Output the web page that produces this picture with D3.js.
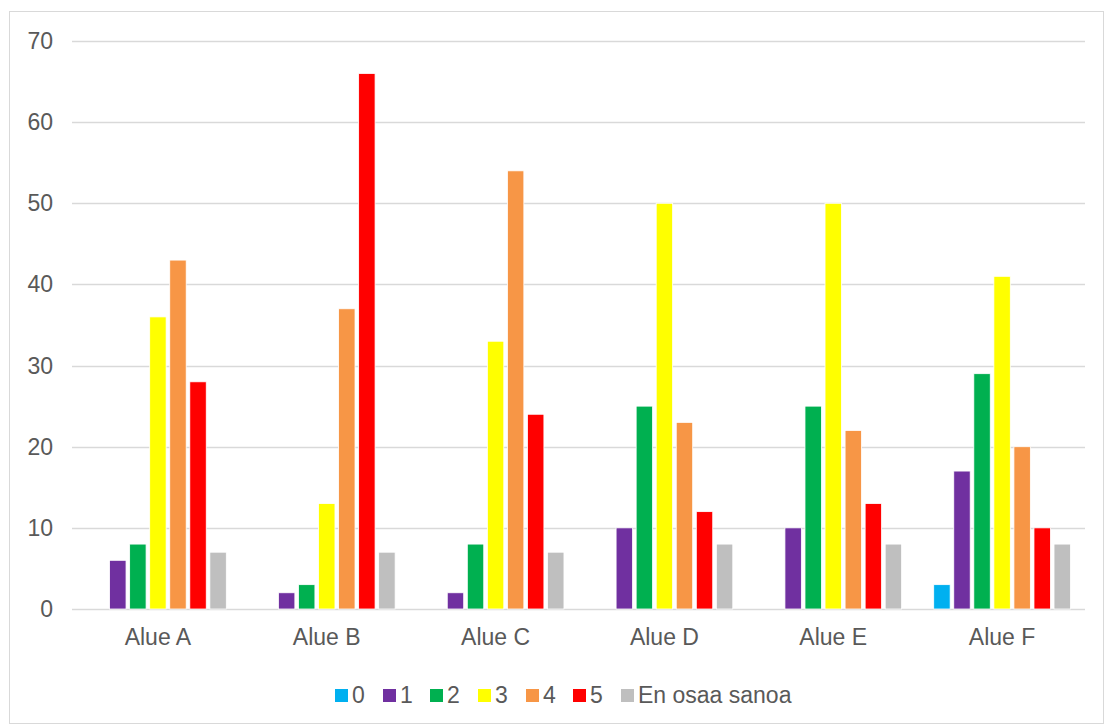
<!DOCTYPE html>
<html>
<head>
<meta charset="utf-8">
<script src="https://cdn.jsdelivr.net/npm/d3@7"></script>
<style>
  body { margin: 0; background: #fff; }
  svg text { font-family: "Liberation Sans", Arial, sans-serif; fill: #595959; }
</style>
</head>
<body>
<div id="chart"></div>
<script>
// chart data
var categories = ["Alue A", "Alue B", "Alue C", "Alue D", "Alue E", "Alue F"];
var seriesNames = ["0", "1", "2", "3", "4", "5", "En osaa sanoa"];
var seriesColors = ["#00b0f0", "#7030a0", "#00b050", "#ffff00", "#f79646", "#ff0000", "#bfbfbf"];
var values0 = [0, 0, 0, 0, 0, 3];
var values1 = [6, 2, 2, 10, 10, 17];
var values2 = [8, 3, 8, 25, 25, 29];
var values3 = [36, 13, 33, 50, 50, 41];
var values4 = [43, 37, 54, 23, 22, 20];
var values5 = [28, 66, 24, 12, 13, 10];
var valuesEos = [7, 7, 7, 8, 8, 8];
var yTicks = [0, 10, 20, 30, 40, 50, 60, 70];

var allValues = [values0, values1, values2, values3, values4, values5, valuesEos];

var W = 1104, H = 724;
var margin = {top: 41, right: 19, bottom: 115, left: 72};
var width = W - margin.left - margin.right,
    height = H - margin.top - margin.bottom;

var svg = d3.select("#chart")
    .append("svg")
    .attr("width", W)
    .attr("height", H);

// outer frame
svg.append("rect")
    .attr("x", 9.5).attr("y", 11.5)
    .attr("width", W - 10).attr("height", H - 12)
    .attr("fill", "none")
    .attr("stroke", "#d9d9d9");

var g = svg.append("g")
    .attr("transform", "translate(" + margin.left + "," + margin.top + ")");

// groups sit a touch right of centre in the original
var x0 = d3.scaleBand().domain(categories).range([1.5, width + 1.5]).paddingInner(0.19).paddingOuter(0.095);
var x1 = d3.scaleBand().domain(seriesNames).range([0, x0.bandwidth()]).paddingInner(0.18);
var y = d3.scaleLinear().domain([0, 70]).range([height, 0]);

// gridlines
g.selectAll(".grid")
    .data(yTicks)
    .enter()
    .append("line")
    .attr("x1", 0).attr("x2", width)
    .attr("y1", function(d){ return Math.round(y(d)) + 0.5; })
    .attr("y2", function(d){ return Math.round(y(d)) + 0.5; })
    .attr("stroke", "#d9d9d9")
    .attr("stroke-width", 1.3);

// y labels
g.selectAll(".ylab")
    .data(yTicks)
    .enter()
    .append("text")
    .attr("x", -19)
    .attr("y", function(d){ return y(d); })
    .attr("dy", "0.35em")
    .attr("text-anchor", "end")
    .style("font-size", "23px")
    .text(function(d){ return d; });

// bars
var rows = [];
categories.forEach(function(c, ci) {
    seriesNames.forEach(function(s, si) {
        rows.push({cat: c, series: s, value: allValues[si][ci], color: seriesColors[si]});
    });
});

g.selectAll(".bar")
    .data(rows.filter(function(d){ return d.value > 0; }))
    .enter()
    .append("rect")
    .attr("x", function(d){ return x0(d.cat) + x1(d.series); })
    .attr("y", function(d){ return y(d.value); })
    .attr("width", x1.bandwidth())
    .attr("height", function(d){ return height - y(d.value); })
    .attr("fill", function(d){ return d.color; })
    .attr("stroke", "#fff")
    .attr("stroke-width", 0.8);

// category labels
g.selectAll(".xlab")
    .data(categories)
    .enter()
    .append("text")
    .attr("x", function(d){ return x0(d) + x0.bandwidth() / 2; })
    .attr("y", height + 36)
    .attr("text-anchor", "middle")
    .style("font-size", "23px")
    .text(function(d){ return d; });

// legend
var legendX = [335, 383, 430, 478, 526, 573, 621];
var legend = svg.selectAll(".legend")
    .data(seriesNames)
    .enter()
    .append("g")
    .attr("transform", function(d, i){ return "translate(" + legendX[i] + ",689)"; });

legend.append("rect")
    .attr("width", 13).attr("height", 13)
    .attr("fill", function(d, i){ return seriesColors[i]; });

legend.append("text")
    .attr("x", 17)
    .attr("y", 14)
    .style("font-size", "23px")
    .text(function(d){ return d; });
</script>
</body>
</html>
